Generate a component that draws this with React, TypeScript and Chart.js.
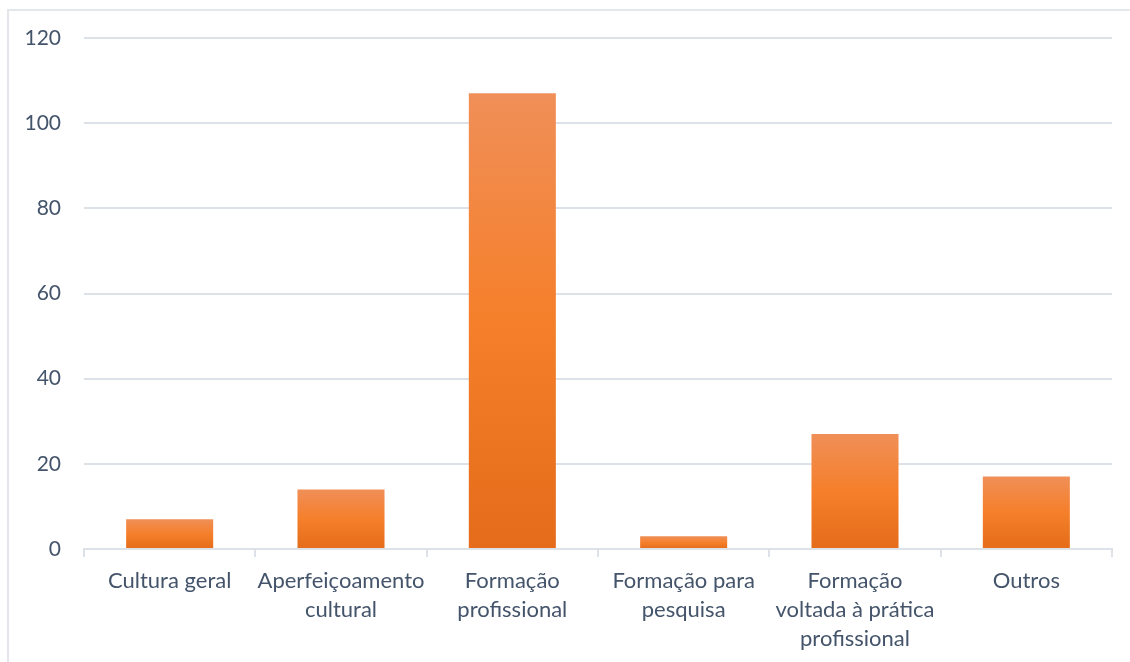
import React, { useEffect, useRef } from "react";
import { Chart, registerables } from "chart.js";

Chart.register(...registerables);

const categories: (string | string[])[] = [
  "Cultura geral",
  ["Aperfeiçoamento", "cultural"],
  ["Formação", "profissional"],
  ["Formação para", "pesquisa"],
  ["Formação", "voltada à prática", "profissional"],
  "Outros",
];
const values = [7, 14, 107, 3, 27, 17];
const yTicks = [0, 20, 40, 60, 80, 100, 120];

const TEXT = "#44546a";
const GRID = "#dde1e8";

function barFill(context: any) {
  const chart = context.chart;
  const y = chart.scales?.y;
  if (!y || context.raw == null) return "#f57f2a";
  const top = y.getPixelForValue(context.raw);
  const bot = y.getPixelForValue(0);
  if (!isFinite(top) || !isFinite(bot) || bot - top < 1) return "#f57f2a";
  const g = chart.ctx.createLinearGradient(0, top, 0, bot);
  g.addColorStop(0, "#f08f58");
  g.addColorStop(0.5, "#f57f2a");
  g.addColorStop(1, "#e46c1a");
  return g;
}

export default function App() {
  const ref = useRef<HTMLCanvasElement>(null);
  useEffect(() => {
    if (!ref.current) return;
    const chart = new Chart(ref.current, {
      type: "bar",
      data: {
        labels: categories,
        datasets: [
          {
            data: values,
            backgroundColor: barFill,
            barPercentage: 0.508,
            categoryPercentage: 1,
          },
        ],
      },
      options: {
        animation: false,
        responsive: false,
        maintainAspectRatio: false,
        layout: { padding: { top: 38, right: 18, left: 0, bottom: 0 } },
        plugins: { legend: { display: false }, tooltip: { enabled: false } },
        scales: {
          x: {
            grid: {
              drawOnChartArea: false,
              drawTicks: true,
              tickLength: 8,
              color: GRID,
              lineWidth: 2,
              offset: true,
            },
            border: { display: true, color: GRID, width: 2 },
            ticks: {
              color: TEXT,
              font: { family: "Lato", size: 22, lineHeight: 1.3 },
              maxRotation: 0,
              autoSkip: false,
              padding: 10,
            },
            afterFit: (s: any) => {
              s.height = 113;
            },
          },
          y: {
            min: 0,
            max: 120,
            afterBuildTicks: (s: any) => {
              s.ticks = yTicks.map((v) => ({ value: v }));
            },
            grid: { color: GRID, lineWidth: 2, drawTicks: false },
            border: { display: false },
            ticks: {
              color: TEXT,
              font: { family: "Lato", size: 21 },
              padding: 23,
            },
            afterFit: (s: any) => {
              s.width = 84;
            },
          },
        },
      },
    });
    return () => chart.destroy();
  }, []);
  return (
    <div style={{ position: "fixed", left: 0, top: 0, width: 1130, height: 662, background: "#fff" }}>
      <div
        style={{
          position: "fixed",
          left: 7,
          top: 9,
          width: 1130,
          height: 662,
          borderLeft: "2px solid #e3e6ea",
          borderTop: "2px solid #e3e6ea",
        }}
      />
      <canvas ref={ref} width={1130} height={662} style={{ position: "fixed", left: 0, top: 0 }} />
    </div>
  );
}
